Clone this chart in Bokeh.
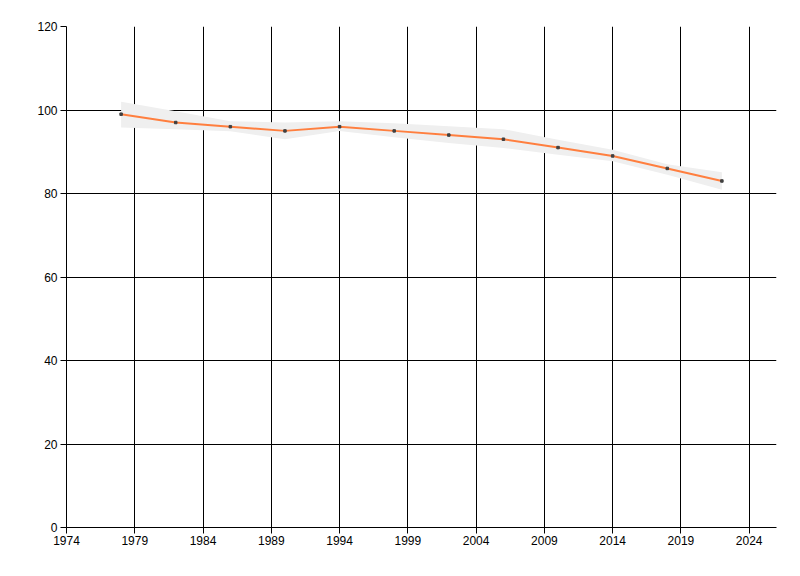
from bokeh.plotting import figure
from bokeh.models import ColumnDataSource, FixedTicker, Range1d
from bokeh.embed import file_html
from bokeh.resources import INLINE

# values
years = [1978, 1982, 1986, 1990, 1994, 1998, 2002, 2006, 2010, 2014, 2018, 2022]
values = [99, 97, 96, 95, 96, 95, 94, 93, 91, 89, 86, 83]
band_upper = [102.0, 99.7, 97.3, 97.0, 97.3, 96.8, 96.1, 95.4, 92.9, 90.5, 87.0, 85.1]
band_lower = [95.8, 95.4, 94.9, 93.0, 95.0, 93.5, 92.1, 90.9, 89.3, 87.7, 84.5, 80.9]

x_ticks = [1974, 1979, 1984, 1989, 1994, 1999, 2004, 2009, 2014, 2019, 2024]
y_ticks = [0, 20, 40, 60, 80, 100, 120]

source = ColumnDataSource(dict(x=years, y=values, upper=band_upper, lower=band_lower))

p = figure(width=784, height=560, output_backend="svg", toolbar_location=None,
           tools="", x_range=Range1d(1974, 2026), y_range=Range1d(0, 120),
           min_border_left=66, min_border_right=8, min_border_top=26,
           min_border_bottom=33)
p.outline_line_color = None
p.background_fill_color = "white"
p.border_fill_color = "white"

# confidence band, line and markers
p.varea(x="x", y1="lower", y2="upper", source=source, fill_color="#efefef")
p.line(x="x", y="y", source=source, line_color="#ff7f3f", line_width=2)
p.scatter(x="x", y="y", source=source, marker="square", size=2.5,
          fill_color="#404040", line_color="#404040")

p.xaxis.ticker = FixedTicker(ticks=x_ticks)
p.yaxis.ticker = FixedTicker(ticks=y_ticks)

for ax in (p.xaxis, p.yaxis):
    ax.axis_line_color = "black"
    ax.axis_line_width = 1
    ax.major_tick_line_color = "black"
    ax.major_tick_in = 0
    ax.major_tick_out = 6
    ax.minor_tick_line_color = None
    ax.major_label_text_font = "Liberation Sans"
    ax.major_label_text_font_size = "12px"
    ax.major_label_text_color = "black"
p.yaxis.major_label_standoff = 3
p.xaxis.major_label_standoff = 2

p.xgrid.grid_line_color = "black"
p.ygrid.grid_line_color = "black"
p.xgrid.grid_line_alpha = 1
p.ygrid.grid_line_alpha = 1

open("out.html", "w").write(file_html(p, INLINE))
